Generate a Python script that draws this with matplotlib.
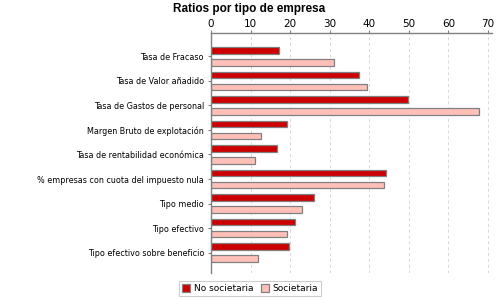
import matplotlib.pyplot as plt
import numpy as np

categorias = [
    'Tasa de Fracaso',
    'Tasa de Valor añadido',
    'Tasa de Gastos de personal',
    'Margen Bruto de explotación',
    'Tasa de rentabilidad económica',
    '% empresas con cuota del impuesto nula',
    'Tipo medio',
    'Tipo efectivo',
    'Tipo efectivo sobre beneficio',
]
no_societaria = [17.3, 37.5, 49.7, 19.1, 16.8, 44.1, 26.1, 21.3, 19.8]
societaria = [31.2, 39.3, 67.7, 12.7, 11.2, 43.6, 23.1, 19.3, 11.9]
ticks_x = [0, 10, 20, 30, 40, 50, 60, 70]

fig = plt.figure(figsize=(5, 3), dpi=100)
ax = fig.add_axes([0.422, 0.09, 0.562, 0.80])

y = np.arange(len(categorias))
h = 0.27
off = 0.245
ax.barh(y - off, no_societaria, height=h, color='#CC0000', edgecolor='#808080',
        linewidth=0.9, label='No societaria')
ax.barh(y + off, societaria, height=h, color='#FFC0B8', edgecolor='#808080',
        linewidth=0.9, label='Societaria')

ax.set_xlim(0, 71)
ax.set_ylim(8.83, -0.95)
ax.set_yticks(y)
ax.set_yticklabels(categorias, fontsize=5.8)
ax.set_xticks(ticks_x)
ax.xaxis.tick_top()
ax.tick_params(axis='x', labelsize=7.5, length=2, pad=1, color='#808080')
ax.tick_params(axis='y', length=2, pad=3, color='#808080')
ax.grid(axis='x', color='#d8d8d8', linestyle=(0, (3, 3)), linewidth=0.7)
ax.set_axisbelow(True)

for s in ['right', 'bottom']:
    ax.spines[s].set_visible(False)
for s in ['top', 'left']:
    ax.spines[s].set_color('#808080')
    ax.spines[s].set_linewidth(1)

fig.text(0.498, 0.97, 'Ratios por tipo de empresa', ha='center', va='center',
         fontsize=8.5, fontweight='bold', family='Liberation Sans')

leg = fig.legend(loc='center', bbox_to_anchor=(0.5, 0.038), ncol=2, fontsize=6.5,
                 frameon=True, fancybox=False, edgecolor='#c0c0c0',
                 handlelength=0.9, handleheight=0.9, handletextpad=0.4,
                 columnspacing=0.8, borderpad=0.3)
leg.get_frame().set_linewidth(0.8)

fig.savefig('out.png', dpi=100)
